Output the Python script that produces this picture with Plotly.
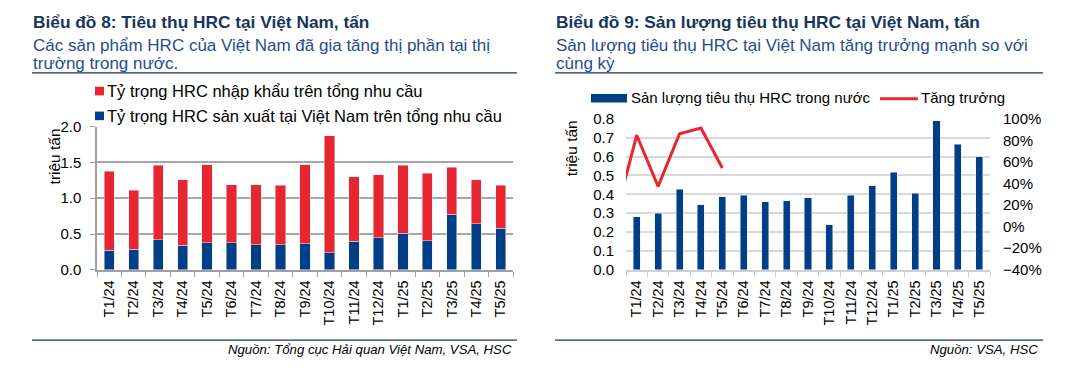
import plotly.graph_objects as go

months = ["T1/24", "T2/24", "T3/24", "T4/24", "T5/24", "T6/24", "T7/24", "T8/24", "T9/24",
          "T10/24", "T11/24", "T12/24", "T1/25", "T2/25", "T3/25", "T4/25", "T5/25"]

# Chart 8: total demand and domestic part (million tonnes)
total_demand = [1.378, 1.111, 1.458, 1.258, 1.471, 1.191, 1.191, 1.178, 1.471,
                1.871, 1.298, 1.329, 1.458, 1.351, 1.431, 1.258, 1.178]
domestic_share = [0.271, 0.284, 0.418, 0.342, 0.378, 0.378, 0.351, 0.351, 0.364,
                  0.236, 0.396, 0.449, 0.511, 0.404, 0.778, 0.644, 0.582]
import_share = [round(t - d, 3) for t, d in zip(total_demand, domestic_share)]

# Chart 9: domestic consumption (million tonnes) and growth (%)
consumption = [0.280, 0.300, 0.426, 0.345, 0.386, 0.396, 0.360, 0.365, 0.381,
               0.239, 0.396, 0.446, 0.517, 0.406, 0.790, 0.664, 0.598]
growth_months = ["T12/23", "T1/24", "T2/24", "T3/24", "T4/24", "T5/24"]
growth = [9, 84.7, 37.3, 86.1, 91.4, 54.3]

NAVY = "#003F87"
RED = "#E8262F"
TITLE_C = "#17365D"
SUB_C = "#1F4E8C"
FONT = "Liberation Sans, Arial, sans-serif"

W, H = 1078, 372
def px(x): return x / W
def py(y): return 1 - y / H

fig = go.Figure()
fig.add_trace(go.Bar(x=months, y=domestic_share, marker_color=NAVY, width=0.42,
                     name="Tỷ trọng HRC sản xuất tại Việt Nam trên tổng nhu cầu",
                     xaxis="x", yaxis="y", showlegend=False))
fig.add_trace(go.Bar(x=months, y=import_share, marker_color=RED, width=0.42,
                     name="Tỷ trọng HRC nhập khẩu trên tổng nhu cầu",
                     xaxis="x", yaxis="y", showlegend=False))
fig.add_trace(go.Bar(x=months, y=consumption, marker_color=NAVY, width=0.33,
                     name="Sản lượng tiêu thụ HRC trong nước",
                     xaxis="x2", yaxis="y2", showlegend=False))
fig.add_trace(go.Scatter(x=growth_months, y=growth, mode="lines",
                         line=dict(color=RED, width=3), name="Tăng trưởng",
                         xaxis="x2", yaxis="y3", showlegend=False, cliponaxis=True))

tickfont = dict(family=FONT, size=15, color="#000000")
xtickfont = dict(family=FONT, size=14.5, color="#000000")
fig.update_layout(
    width=W, height=H, margin=dict(l=0, r=0, t=0, b=0),
    paper_bgcolor="white", plot_bgcolor="white", barmode="stack",
    font=dict(family=FONT, color="#000000"),
    xaxis=dict(domain=[px(97), px(513)], type="category", categoryarray=months,
               tickangle=-90, tickfont=xtickfont, ticks="outside", tickson="boundaries",
               ticklen=5, tickcolor="#A0A0A0", showline=True, linecolor="#A0A0A0",
               linewidth=1.5, showgrid=False, anchor="y", ticklabelstandoff=3),
    yaxis=dict(domain=[py(273.3), py(123.3)], range=[0, 2.0], dtick=0.5, tickformat=".1f",
               tickfont=tickfont, ticks="outside", ticklen=5, tickcolor="#A0A0A0",
               showline=True, linecolor="#A0A0A0", linewidth=1.5,
               gridcolor="#A6A6A6", gridwidth=1.5, zeroline=False, anchor="x",
               ticklabelstandoff=6),
    xaxis2=dict(domain=[px(626), px(990)], type="category",
                categoryarray=["T12/23"] + months, range=[0.5, 17.5],
                tickangle=-90, tickfont=xtickfont, ticks="outside", tickson="boundaries",
                ticklen=5, tickcolor="#D0D0D0", showline=True, linecolor="#D0D0D0",
                linewidth=1.5, showgrid=False, anchor="y2", ticklabelstandoff=3),
    yaxis2=dict(domain=[py(273.3), py(115)], range=[0, 0.8], dtick=0.1, tickformat=".1f",
                tickfont=tickfont, showline=False, gridcolor="#D9D9D9", gridwidth=2,
                zeroline=False, anchor="x2", ticklabelstandoff=11),
    yaxis3=dict(overlaying="y2", side="right", range=[-40, 100], dtick=20, ticksuffix="%",
                tickfont=tickfont, showgrid=False, showline=False, zeroline=False,
                anchor="x2", ticklabelstandoff=12),
)

shapes = []
ann = []
def text(x, y, t, size, color="#000000", xanchor="left"):
    ann.append(dict(x=px(x), y=py(y), xref="paper", yref="paper", xanchor=xanchor,
                    yanchor="middle", text=t, showarrow=False,
                    font=dict(family=FONT, size=size, color=color)))

# Panel titles
for x0, title, sub1, sub2, src, x1 in [
    (32, "<b>Biểu đồ 8: Tiêu thụ HRC tại Việt Nam, tấn</b>",
     "Các sản phẩm HRC của Việt Nam đã gia tăng thị phần tại thị", "trường trong nước.",
     "Nguồn: Tổng cục Hải quan Việt Nam, VSA, HSC", 517),
    (555, "<b>Biểu đồ 9: Sản lượng tiêu thụ HRC tại Việt Nam, tấn</b>",
     "Sản lượng tiêu thụ HRC tại Việt Nam tăng trưởng mạnh so với", "cùng kỳ",
     "Nguồn: VSA, HSC", 1043)]:
    text(x0 - 1, 14, title, 17.3, TITLE_C)
    text(x0 - 1, 38, sub1, 17, SUB_C)
    text(x0 - 1, 57, sub2, 17, SUB_C)
    text(x1 - 3, 357, "<i>" + src + "</i>", 13.2, xanchor="right")
    shapes.append(dict(type="line", xref="paper", yref="paper", x0=px(x0), x1=px(x1),
                       y0=py(67), y1=py(67), line=dict(color=TITLE_C, width=1.2)))
    shapes.append(dict(type="line", xref="paper", yref="paper", x0=px(x0), x1=px(x1),
                       y0=py(347), y1=py(347), line=dict(color=TITLE_C, width=1.2)))

# y-axis titles
ann.append(dict(x=px(44), y=py(155), xref="paper", yref="paper", text="triệu tấn",
                textangle=-90, showarrow=False, font=dict(family=FONT, size=15.5)))
ann.append(dict(x=px(571), y=py(146), xref="paper", yref="paper", text="triệu tấn",
                textangle=-90, showarrow=False, font=dict(family=FONT, size=15.5)))

# Legend chart 8
for yc, col, name in [(86, RED, "Tỷ trọng HRC nhập khẩu trên tổng nhu cầu"),
                      (112, NAVY, "Tỷ trọng HRC sản xuất tại Việt Nam trên tổng nhu cầu")]:
    shapes.append(dict(type="rect", xref="paper", yref="paper", x0=px(95), x1=px(104),
                       y0=py(yc + 4.5), y1=py(yc - 4.5), fillcolor=col, line=dict(width=0)))
    text(105, yc, name, 16.5)

# Legend chart 9
shapes.append(dict(type="rect", xref="paper", yref="paper", x0=px(591), x1=px(627),
                   y0=py(98), y1=py(89), fillcolor=NAVY, line=dict(width=0)))
text(629, 93, "Sản lượng tiêu thụ HRC trong nước", 15)
shapes.append(dict(type="line", xref="paper", yref="paper", x0=px(880), x1=px(918),
                   y0=py(94), y1=py(94), line=dict(color=RED, width=3)))
text(919, 93, "Tăng trưởng", 15)

fig.update_layout(shapes=shapes, annotations=ann)
fig.write_html("out.html", config={"displayModeBar": False},
               post_script="document.body.style.margin='0';")
